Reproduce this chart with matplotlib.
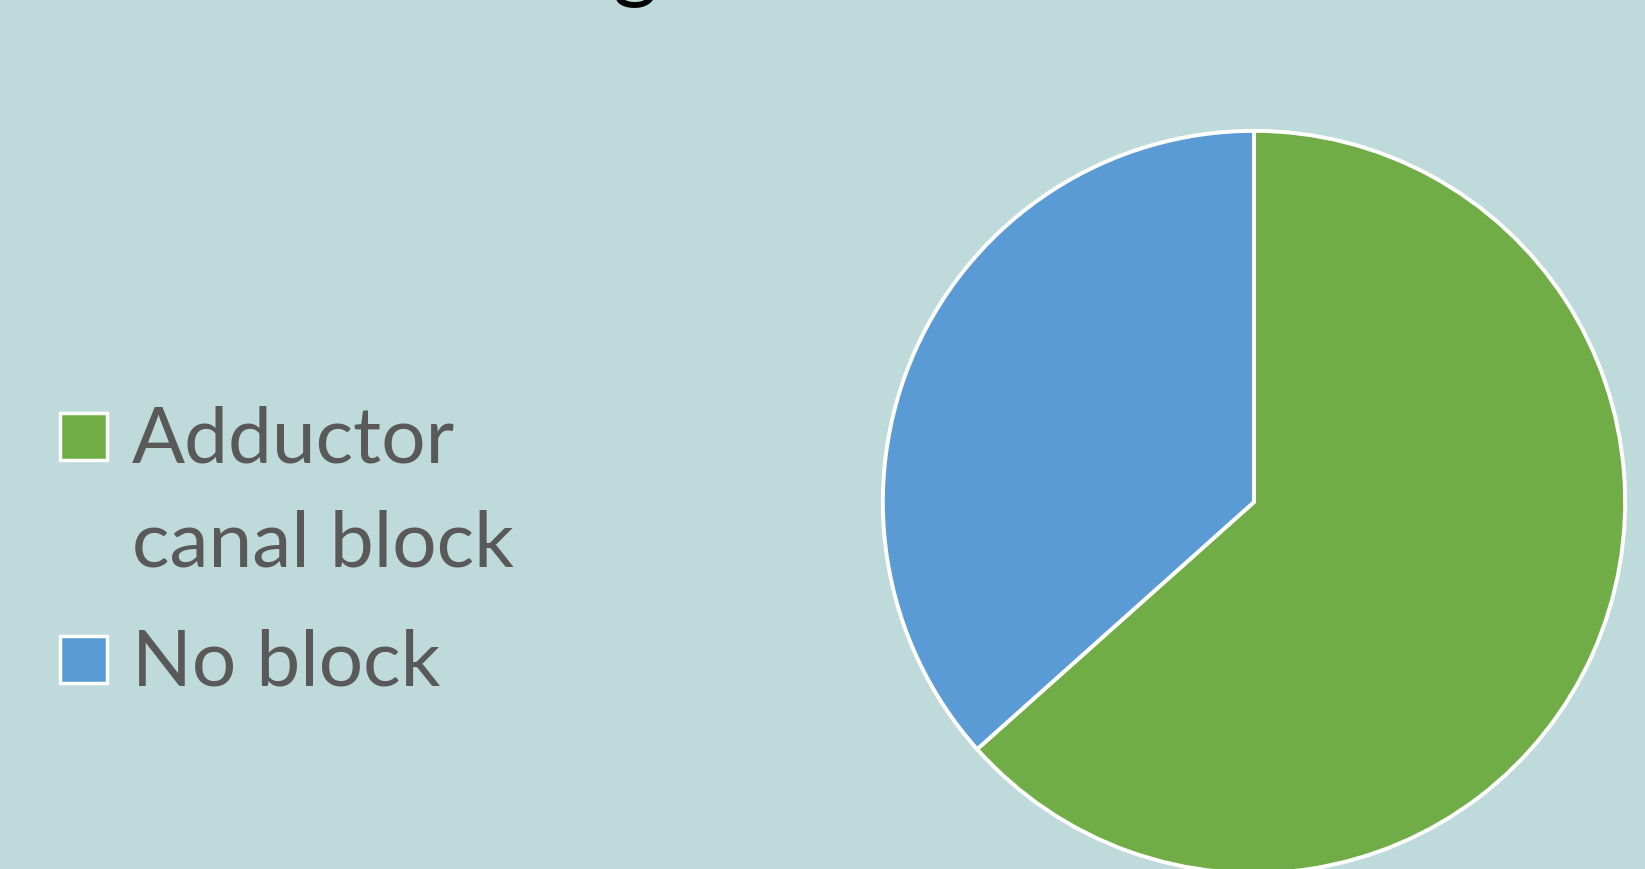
import matplotlib
matplotlib.use("Agg")
import matplotlib.pyplot as plt
from matplotlib.patches import Rectangle
import textwrap

labels = ["Adductor canal block", "No block"]
values = [63.4, 36.6]
colors = ["#70AD47", "#5B9BD5"]
bg = "#BFDADB"

W, H = 1645, 870
fig = plt.figure(figsize=(W / 100, H / 100), dpi=100, facecolor=bg)

# pie
cx, cy, r = 1254, 503, 373
ax = fig.add_axes([(cx - r) / W, (H - cy - r) / H, 2 * r / W, 2 * r / H])
ax.set_facecolor("none")
ax.pie(values, colors=colors, startangle=90, counterclock=False, radius=1,
       wedgeprops=dict(edgecolor="white", linewidth=2.8))
ax.set_xlim(-1.005, 1.005)
ax.set_ylim(-1.005, 1.005)
ax.set_aspect("equal")
ax.axis("off")

# cut-off title fragment at the top
fig.text(635 / W, 1 - (-9) / H, "g", ha="center", va="baseline",
         fontsize=62, family="Lato", color="black")

# legend
sq = 47
ys = [437, 660]  # square centres (pixels from top)
for lab, col, yc in zip(labels, colors, ys):
    fig.patches.append(Rectangle(((60) / W, 1 - (yc + sq / 2) / H), sq / W, sq / H,
                                 transform=fig.transFigure, facecolor=col,
                                 edgecolor="white", linewidth=2.5))
    lines = textwrap.wrap(lab, 11)
    for i, ln in enumerate(lines):
        base = yc + 26 + i * 104
        fig.text(132 / W, 1 - base / H, ln, ha="left", va="baseline",
                 fontsize=56.5, family="Lato", color="#595959")

fig.savefig("out.png", dpi=100, facecolor=bg)
